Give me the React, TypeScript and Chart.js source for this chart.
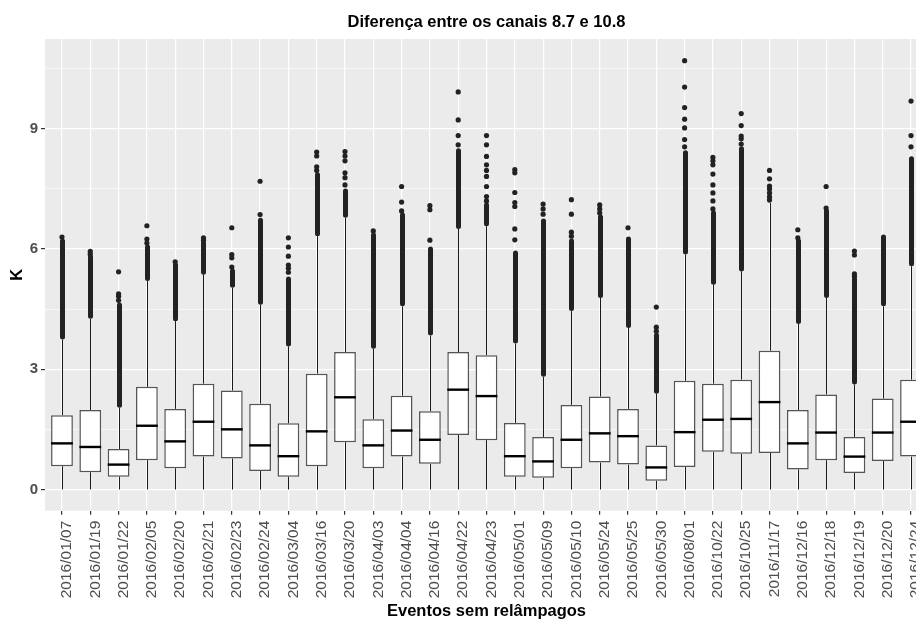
import React, { useEffect, useRef } from "react";
import { Chart, registerables } from "chart.js";

Chart.register(...registerables);

const categories = [
  "2016/01/07", "2016/01/19", "2016/01/22", "2016/02/05", "2016/02/20", "2016/02/21",
  "2016/02/23", "2016/02/24", "2016/03/04", "2016/03/16", "2016/03/20", "2016/04/03",
  "2016/04/04", "2016/04/16", "2016/04/22", "2016/04/23", "2016/05/01", "2016/05/09",
  "2016/05/10", "2016/05/24", "2016/05/25", "2016/05/30", "2016/08/01", "2016/10/22",
  "2016/10/25", "2016/11/17", "2016/12/16", "2016/12/18", "2016/12/19", "2016/12/20",
  "2016/12/24",
];

const q1 = [0.58, 0.43, 0.32, 0.73, 0.53, 0.82, 0.77, 0.46, 0.32, 0.58, 1.18, 0.53, 0.82, 0.64, 1.36, 1.23, 0.32, 0.29, 0.53, 0.67, 0.62, 0.22, 0.56, 0.94, 0.89, 0.91, 0.5, 0.73, 0.41, 0.71, 0.82];
const median = [1.15, 1.06, 0.62, 1.59, 1.2, 1.69, 1.5, 1.1, 0.83, 1.45, 2.3, 1.1, 1.47, 1.24, 2.49, 2.33, 0.83, 0.7, 1.24, 1.4, 1.33, 0.55, 1.43, 1.74, 1.76, 2.18, 1.15, 1.42, 0.82, 1.42, 1.69];
const q3 = [1.85, 1.98, 1.01, 2.56, 2.01, 2.64, 2.47, 2.14, 1.65, 2.89, 3.43, 1.75, 2.34, 1.95, 3.43, 3.35, 1.66, 1.31, 2.11, 2.32, 2.01, 1.1, 2.71, 2.64, 2.74, 3.46, 1.98, 2.37, 1.31, 2.27, 2.74];
const whiskerLow = [0, 0, 0, 0, 0, 0, 0, 0, 0, 0, 0, 0, 0, 0, 0, 0, 0, 0, 0, 0, 0, 0, 0, 0, 0, 0, 0, 0, 0, 0, 0];
const whiskerHigh = [3.74, 4.26, 2.04, 5.2, 4.2, 5.36, 5.03, 4.61, 3.57, 6.32, 6.78, 3.51, 4.57, 3.84, 6.5, 6.57, 3.64, 2.81, 4.45, 4.78, 4.03, 2.39, 5.86, 5.11, 5.44, 7.15, 4.13, 4.78, 2.62, 4.57, 5.57];
// top of the continuous run of overlapping outlier points
const denseTop = [6.2, 5.8, 4.6, 6.05, 5.6, 6.15, 5.45, 6.72, 5.25, 7.85, 7.45, 6.35, 6.85, 6.0, 8.45, 7.1, 5.9, 6.7, 6.2, 6.8, 6.25, 3.85, 8.4, 6.9, 8.5, 7.15, 6.2, 6.95, 5.25, 6.3, 8.25];
// separate outlier points above the continuous run
const outliers: number[][] = [
  [6.3],
  [5.87, 5.94],
  [4.72, 4.82, 4.88, 5.43],
  [6.15, 6.25, 6.58],
  [5.68],
  [6.22, 6.28],
  [5.55, 5.78, 5.86, 6.53],
  [6.86, 7.69],
  [5.42, 5.52, 5.6, 5.82, 6.05, 6.28],
  [7.96, 8.05, 8.32, 8.42],
  [7.6, 7.78, 7.9, 8.2, 8.32, 8.43],
  [6.45],
  [6.95, 7.17, 7.56],
  [6.22, 6.98, 7.08],
  [8.6, 8.83, 9.22, 9.92],
  [7.2, 7.31, 7.56, 7.81, 7.96, 8.1, 8.31, 8.6, 8.83],
  [6.23, 6.5, 7.06, 7.16, 7.41, 7.9, 7.98],
  [6.87, 7.0, 7.12],
  [6.32, 6.42, 6.87, 7.23],
  [6.9, 7.0, 7.1],
  [6.53],
  [3.95, 4.05, 4.55],
  [8.55, 8.73, 9.02, 9.24, 9.53, 10.04, 10.7],
  [7.0, 7.2, 7.4, 7.6, 7.87, 8.1, 8.2, 8.29],
  [8.62, 8.75, 8.82, 9.08, 9.38],
  [7.22, 7.3, 7.4, 7.5, 7.57, 7.75, 7.96],
  [6.28, 6.48],
  [7.02, 7.56],
  [5.32, 5.38, 5.85, 5.95],
  [],
  [8.55, 8.83, 9.69],
];

const yTicks = [0, 3, 6, 9];
const yMinorTicks = [1.5, 4.5, 7.5, 10.5];

const FONT = "'Liberation Sans', Arial, Helvetica, sans-serif";

export default function App() {
  const ref = useRef<HTMLCanvasElement>(null);

  useEffect(() => {
    const canvas = ref.current;
    if (!canvas) return;

    const boxPlugin = {
      id: "boxExtras",
      beforeDraw(chart: any) {
        const { ctx, chartArea: a } = chart;
        ctx.save();
        ctx.fillStyle = "#EBEBEB";
        ctx.fillRect(a.left, a.top, a.right - a.left, a.bottom - a.top);
        ctx.restore();
      },
      beforeDatasetsDraw(chart: any) {
        const { ctx, chartArea: a } = chart;
        const x = chart.scales.x;
        const y = chart.scales.y;
        ctx.save();
        ctx.beginPath();
        ctx.rect(a.left, a.top, a.right - a.left, a.bottom - a.top);
        ctx.clip();
        categories.forEach((_, i) => {
          const px = Math.round(x.getPixelForValue(i + 1)) + 0.5;
          ctx.strokeStyle = "#1a1a1a";
          ctx.lineWidth = 1;
          ctx.lineCap = "butt";
          ctx.beginPath();
          ctx.moveTo(px, y.getPixelForValue(q3[i]));
          ctx.lineTo(px, y.getPixelForValue(whiskerHigh[i]));
          ctx.moveTo(px, y.getPixelForValue(q1[i]));
          ctx.lineTo(px, y.getPixelForValue(whiskerLow[i]));
          ctx.stroke();
          if (denseTop[i] > whiskerHigh[i]) {
            ctx.strokeStyle = "#222222";
            ctx.lineWidth = 5;
            ctx.lineCap = "round";
            ctx.beginPath();
            ctx.moveTo(px, y.getPixelForValue(whiskerHigh[i]) - 2.5);
            ctx.lineTo(px, y.getPixelForValue(denseTop[i]));
            ctx.stroke();
          }
        });
        ctx.restore();
      },
      afterDatasetsDraw(chart: any) {
        const { ctx } = chart;
        const x = chart.scales.x;
        const y = chart.scales.y;
        const meta = chart.getDatasetMeta(1);
        ctx.save();
        ctx.strokeStyle = "#000000";
        ctx.lineWidth = 2.4;
        ctx.lineCap = "butt";
        categories.forEach((_, i) => {
          const bar = meta.data[i];
          const half = bar ? bar.width / 2 : 10;
          const px = x.getPixelForValue(i + 1);
          const py = y.getPixelForValue(median[i]);
          ctx.beginPath();
          ctx.moveTo(px - half, py);
          ctx.lineTo(px + half, py);
          ctx.stroke();
        });
        ctx.restore();
      },
    };

    const outlierData = outliers.flatMap((arr, i) => arr.map((v) => ({ x: i + 1, y: v })));
    const boxData = categories.map((_, i) => ({ x: i + 1, y: [q1[i], q3[i]] }));

    const chart = new Chart(canvas, {
      type: "bar",
      data: {
        datasets: [
          {
            type: "scatter",
            data: outlierData,
            backgroundColor: "#222222",
            borderColor: "#222222",
            borderWidth: 0,
            pointRadius: 2.6,
            pointHoverRadius: 2.6,
          } as any,
          {
            type: "bar",
            data: boxData as any,
            backgroundColor: "#FFFFFF",
            borderColor: "#555555",
            borderWidth: 1.5,
            borderSkipped: false,
            barPercentage: 0.77,
            categoryPercentage: 1,
          } as any,
        ],
      },
      options: {
        responsive: false,
        animation: false,
        layout: { padding: { left: 0, right: 12, top: 0, bottom: 0 } },
        plugins: {
          legend: { display: false },
          tooltip: { enabled: false },
          title: {
            display: true,
            text: "Diferença entre os canais 8.7 e 10.8",
            color: "#000000",
            fullSize: false,
            font: { family: FONT, size: 16.5, weight: "bold", lineHeight: 1.2 },
            padding: { top: 12.5, bottom: 6.7 },
          },
        },
        scales: {
          x: {
            type: "linear",
            min: 0.4,
            max: 31.6,
            offset: false,
            afterBuildTicks: (s: any) => {
              s.ticks = categories.map((_, i) => ({ value: i + 1 }));
            },
            afterFit: (s: any) => {
              s.height = 110.3;
            },
            ticks: {
              autoSkip: false,
              minRotation: 90,
              maxRotation: 90,
              padding: 6,
              labelOffset: 5,
              color: "#4D4D4D",
              font: { family: FONT, size: 15.5 },
              callback: (_v: any, idx: number) => categories[idx],
            },
            grid: {
              color: "#FFFFFF",
              lineWidth: 1.2,
              offset: false,
              drawTicks: true,
              tickLength: 4,
              tickColor: "#333333",
            },
            border: { display: false },
            title: {
              display: true,
              text: "Eventos sem relâmpagos",
              color: "#000000",
              font: { family: FONT, size: 16.5, weight: "bold", lineHeight: 1.1 },
              padding: { top: 0, bottom: 0 },
            },
          } as any,
          y: {
            type: "linear",
            min: -0.53,
            max: 11.24,
            afterBuildTicks: (s: any) => {
              s.ticks = [...yTicks, ...yMinorTicks].sort((a, b) => a - b).map((v) => ({ value: v }));
            },
            afterFit: (s: any) => {
              s.width = 45;
            },
            ticks: {
              padding: 3,
              color: "#4D4D4D",
              font: { family: FONT, size: 15, weight: "bold" },
              callback: (v: any) => (yTicks.includes(v) ? String(v) : ""),
            },
            grid: {
              color: "#FFFFFF",
              lineWidth: (c: any) => (c.tick && yTicks.includes(c.tick.value) ? 1.2 : 0.6),
              tickColor: (c: any) => (c.tick && yTicks.includes(c.tick.value) ? "#333333" : "rgba(0,0,0,0)"),
              tickLength: 4,
              drawTicks: true,
            },
            border: { display: false },
            title: {
              display: true,
              text: "K",
              color: "#000000",
              font: { family: FONT, size: 16.5, weight: "bold", lineHeight: 1.2 },
              padding: { top: 8, bottom: 0 },
            },
          } as any,
        },
      },
      plugins: [boxPlugin as any],
    });

    return () => chart.destroy();
  }, []);

  return (
    <div
      style={{
        position: "fixed",
        left: 0,
        top: 0,
        width: 916,
        height: 621,
        overflow: "hidden",
        background: "#FFFFFF",
      }}
    >
      <canvas ref={ref} width={940} height={621} style={{ display: "block" }} />
    </div>
  );
}
